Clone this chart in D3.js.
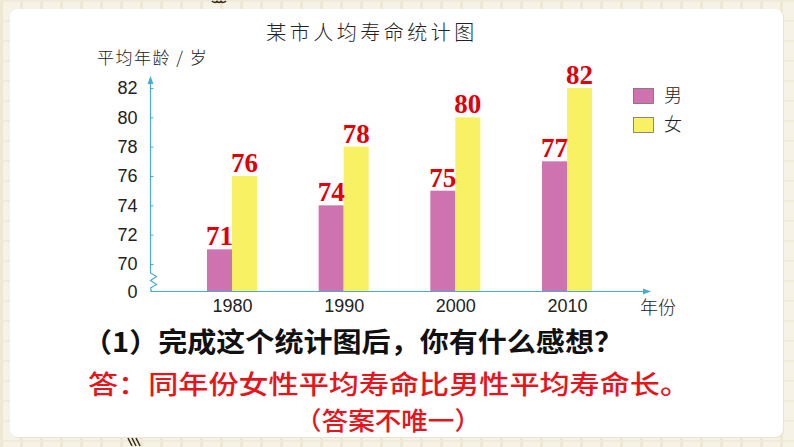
<!DOCTYPE html>
<html><head><meta charset="utf-8">
<script src="https://cdn.jsdelivr.net/npm/d3@7"></script>
<style>html,body{margin:0;padding:0;background:#f4f0e2;}svg{display:block;}</style>
</head><body>
<svg id="c" width="794" height="447"></svg>
<script>
const years = [1980, 1990, 2000, 2010];
const male = [71, 74, 75, 77];
const female = [76, 78, 80, 82];
const yTicks = [70, 72, 74, 76, 78, 80, 82];
const seriesNames = ["男", "女"];
const title = "某市人均寿命统计图";
const yLabel = "平均年龄 / 岁";
const xLabel = "年份";
const question = "（1）完成这个统计图后，你有什么感想？";
const answer = "答：同年份女性平均寿命比男性平均寿命长。";
const note = "（答案不唯一）";

const svg = d3.select("#c");
const CJK = "'Noto Sans CJK SC','Noto Sans',sans-serif";
const axisColor = "#45acd2";
const colors = ["#cf72b0", "#f8f163"];

// background pattern
const defs = svg.append("defs");
const pat = defs.append("pattern").attr("id","bg").attr("width",20).attr("height",20).attr("patternUnits","userSpaceOnUse");
pat.append("rect").attr("width",20).attr("height",20).attr("fill","#f6f2e5");
pat.append("rect").attr("x",0).attr("width",3).attr("height",20).attr("fill","#ede7d4");
pat.append("rect").attr("y",0).attr("width",20).attr("height",2).attr("fill","#f0eada");
svg.append("rect").attr("width",794).attr("height",447).attr("fill","url(#bg)");
svg.append("rect").attr("x",11).attr("y",10).attr("width",773).attr("height",428).attr("rx",8)
  .attr("fill","#e9e3cf");
svg.append("rect").attr("x",10).attr("y",9).attr("width",773).attr("height",428).attr("rx",8)
  .attr("fill","#ffffff");

// decorative stripes
[[212,0],[216,0],[220,0]].forEach(([x,y])=>{
  svg.append("path").attr("d",`M${x},${y+1} q3,3 6,0`).attr("stroke","#3a2a10").attr("stroke-width",1.6).attr("fill","none");
});
[[128,438],[132,438],[136,438]].forEach(([x,y])=>{
  svg.append("line").attr("x1",x).attr("y1",y).attr("x2",x+4).attr("y2",y+8).attr("stroke","#3a2a10").attr("stroke-width",1.5);
});

// scales
const x = d3.scalePoint().domain(years).range([232, 567]);
const y = d3.scaleLinear().domain([70, 82]).range([264, 88]);
const baseY = 291.5, axisX = 150.5, barW = 25;

// title + labels
svg.append("text").attr("x",372).attr("y",40).attr("text-anchor","middle")
  .attr("font-family",CJK).attr("font-size",20).attr("font-weight",300)
  .attr("letter-spacing",3.5).attr("fill","#222").text(title);
svg.append("text").attr("x",97).attr("y",64).attr("font-family",CJK)
  .attr("font-size",17).attr("font-weight",300).attr("letter-spacing",1.5).attr("fill","#222").text(yLabel);

// bars
const g = svg.append("g");
years.forEach((yr,i)=>{
  g.append("rect").attr("x",x(yr)-barW).attr("y",y(male[i])).attr("width",barW)
    .attr("height",baseY-y(male[i])).attr("fill",colors[0]);
  g.append("rect").attr("x",x(yr)).attr("y",y(female[i])).attr("width",barW)
    .attr("height",baseY-y(female[i])).attr("fill",colors[1]);
});
// value labels
const lbl = (cx, v) => svg.append("text").attr("x",cx).attr("y",y(v)-4).attr("text-anchor","middle")
  .attr("font-family","'Liberation Serif','Times New Roman',serif").attr("font-weight","bold")
  .attr("font-size",27).attr("fill","#e0000b").text(v);
years.forEach((yr,i)=>{
  lbl(x(yr)-barW/2, male[i]);
  lbl(x(yr)+barW/2, female[i]);
});

// y axis
const yAxis = d3.axisLeft(y).tickValues(yTicks).tickSizeInner(-3).tickSizeOuter(0).tickPadding(13);
const ya = svg.append("g").attr("transform",`translate(${axisX},0)`).call(yAxis);
ya.select(".domain").remove();
ya.selectAll(".tick line").attr("stroke",axisColor);
ya.selectAll(".tick text").attr("font-family","'Liberation Sans',Arial,sans-serif")
  .attr("font-size",18).attr("fill","#222");
svg.append("text").attr("x",axisX-13).attr("y",baseY).attr("dy","0.36em").attr("text-anchor","end")
  .attr("font-family","'Liberation Sans',Arial,sans-serif").attr("font-size",18).attr("fill","#222").text("0");
svg.append("path").attr("fill","none").attr("stroke",axisColor).attr("stroke-width",1.2)
  .attr("d",`M${axisX},82 L${axisX},273 L${axisX+6},276.5 L${axisX},280.5 L${axisX+6},284.5 L${axisX},288 L${axisX+1},${baseY}`);
svg.append("path").attr("fill",axisColor).attr("d",`M${axisX},76 L${axisX-3},84 L${axisX+3},84 Z`);

// x axis
const xAxis = d3.axisBottom(x).tickSize(0).tickPadding(8);
const xa = svg.append("g").attr("transform",`translate(0,${baseY})`).call(xAxis);
xa.select(".domain").remove();
xa.selectAll(".tick text").attr("font-family","'Liberation Sans',Arial,sans-serif")
  .attr("font-size",18).attr("fill","#222");
svg.append("line").attr("x1",axisX).attr("x2",645).attr("y1",baseY).attr("y2",baseY)
  .attr("stroke",axisColor).attr("stroke-width",1.2);
svg.append("path").attr("fill",axisColor).attr("d",`M651,${baseY} L643,${baseY-3} L643,${baseY+3} Z`);
svg.append("text").attr("x",640).attr("y",314).attr("font-family",CJK).attr("font-size",18)
  .attr("font-weight",300).attr("fill","#222").text(xLabel);

// legend
seriesNames.forEach((n,i)=>{
  svg.append("rect").attr("x",633.5).attr("y",88.5+i*29).attr("width",20).attr("height",15)
    .attr("fill",colors[i]).attr("stroke","#7a6a60").attr("stroke-width",0.8);
  svg.append("text").attr("x",664).attr("y",102+i*29).attr("font-family",CJK)
    .attr("font-size",18).attr("font-weight",300).attr("fill","#222").text(n);
});

// bottom texts
svg.append("text").attr("x",83).attr("y",352).attr("font-family",CJK).attr("font-size",27)
  .attr("font-weight",700).attr("fill","#111").attr("textLength",540).attr("lengthAdjust","spacingAndGlyphs").text(question);
svg.append("text").attr("x",88).attr("y",394).attr("font-family",CJK).attr("font-size",26)
  .attr("font-weight",500).attr("fill","#e8141c").attr("textLength",602).attr("lengthAdjust","spacingAndGlyphs").text(answer);
svg.append("text").attr("x",295).attr("y",430).attr("font-family",CJK).attr("font-size",25)
  .attr("font-weight",500).attr("fill","#e8141c").attr("textLength",186).attr("lengthAdjust","spacingAndGlyphs").text(note);
</script>
</body></html>
